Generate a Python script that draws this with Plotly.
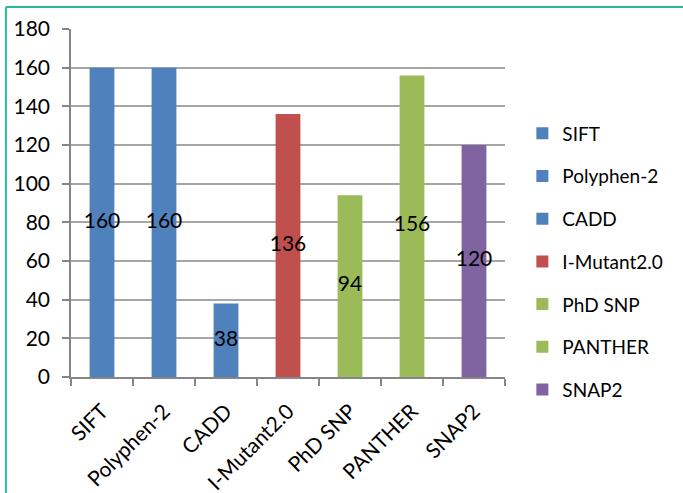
import plotly.graph_objects as go

tools = ["SIFT", "Polyphen-2", "CADD", "I-Mutant2.0", "PhD SNP", "PANTHER", "SNAP2"]
counts = [160, 160, 38, 136, 94, 156, 120]
colors = ["#4F81BD", "#4F81BD", "#4F81BD", "#C0504D", "#9BBB59", "#9BBB59", "#8064A2"]

FONT = "Lato"

fig = go.Figure()
for name, val, col in zip(tools, counts, colors):
    fig.add_trace(go.Bar(
        x=[name], y=[val], name=name, marker=dict(color=col, line=dict(width=0)),
        width=0.4, legendgroup=name,
    ))

# value labels centred in each bar
fig.add_trace(go.Scatter(
    x=tools, y=[v / 2 for v in counts], mode="text",
    text=[str(v) for v in counts], textposition="middle center",
    textfont=dict(family=FONT, size=21, color="black"),
    showlegend=False, hoverinfo="skip",
))

fig.update_layout(
    width=683, height=493,
    margin=dict(l=71, r=178, t=29, b=116),
    paper_bgcolor="white", plot_bgcolor="white",
    barmode="overlay",
    font=dict(family=FONT, size=20, color="black"),
    showlegend=True,
    legend=dict(
        x=1.04, xanchor="left", y=0.332, yanchor="middle",
        font=dict(family=FONT, size=19, color="black"),
        tracegroupgap=15, itemwidth=30, borderwidth=0,
    ),
    xaxis=dict(
        type="category", categoryorder="array", categoryarray=tools,
        tickangle=-45, showline=True, linecolor="#868686", linewidth=1.5,
        ticks="outside", ticklen=7, tickcolor="#868686", tickwidth=1.5,
        tickson="boundaries", showgrid=False, ticklabelstandoff=12,
        automargin=False,
        tickfont=dict(family=FONT, size=21, color="black"),
    ),
    yaxis=dict(
        range=[0, 180], dtick=20, showline=True, linecolor="#868686", linewidth=1.5,
        ticks="outside", ticklen=7, tickcolor="#868686", tickwidth=1.5,
        ticklabelstandoff=8, automargin=False,
        showgrid=True, gridcolor="#A6A6A6", gridwidth=1.5, zeroline=False,
        tickfont=dict(family=FONT, size=21, color="black"),
    ),
    shapes=[
        dict(type="line", xref="paper", yref="paper", x0=-0.15, x1=1.5, y0=1.063, y1=1.063,
             line=dict(color="#2DB89B", width=2)),
        dict(type="line", xref="paper", yref="paper", x0=-0.15, x1=-0.15, y0=1.063, y1=-0.4,
             line=dict(color="#2DB89B", width=2)),
    ],
)

fig.write_html("out.html")
